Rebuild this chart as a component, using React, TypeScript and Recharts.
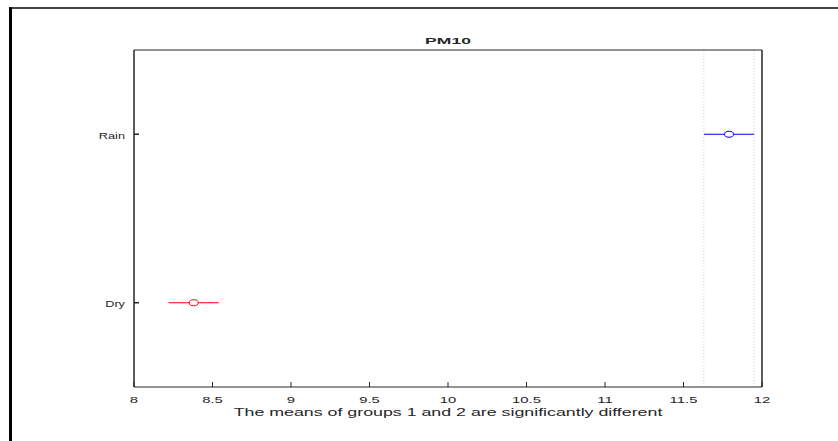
import React from 'react'
import { ScatterChart, Scatter, XAxis, YAxis, ReferenceLine } from 'recharts'

const groups = ['Dry', 'Rain']
const means = [8.38, 11.79]
const halfWidths = [0.16, 0.16]
const colors = ['#ff0000', '#0000ff']
const xTicks = [8, 8.5, 9, 9.5, 10, 10.5, 11, 11.5, 12]
const yTicks = [1, 2]
const title = 'PM10'
const xLabel = 'The means of groups 1 and 2 are significantly different'

const series = groups.map((g, i) => ({
  name: g,
  color: colors[i],
  y: i + 1,
  lo: means[i] - halfWidths[i],
  hi: means[i] + halfWidths[i],
  data: [{ x: means[i], y: i + 1 }],
}))

// Rain is the selected group -> its interval bounds get the dotted guides
const selected = series[1]

const font = '"Liberation Sans", Arial, Helvetica, sans-serif'
const ink = '#262626'

// the source image is stretched sideways, so text is drawn small + scaleX
const stretched = (x: number, y: number, s: number, anchor: string, size: number, text: string, bold = false) => (
  <text
    transform={`translate(${x} ${y}) scale(${s} 1)`}
    x={0}
    y={0}
    textAnchor={anchor}
    fontSize={size}
    fontFamily={font}
    fontWeight={bold ? 'bold' : 'normal'}
    fill={ink}
  >
    {text}
  </text>
)

const XTick = (p: any) => stretched(p.x, p.y + 16, 1.75, 'middle', 8.5, String(p.payload.value))
const YTick = (p: any) => stretched(p.x - 9, p.y + 4.5, 1.5, 'end', 8.5, groups[p.payload.value - 1])

const marker = (color: string) => (props: any) => (
  <ellipse cx={props.cx} cy={props.cy} rx={4.5} ry={3} fill="#fff" stroke={color} strokeWidth={1} />
)

export default function App() {
  return (
    <div style={{ position: 'absolute', left: 0, top: 0, width: 838, height: 441, background: '#fff' }}>
      <div style={{ position: 'absolute', left: 9, top: 7, width: 829, height: 2, background: '#444' }} />
      <div style={{ position: 'absolute', left: 9, top: 7, width: 3, height: 434, background: '#000' }} />
      <ScatterChart width={838} height={441} margin={{ top: 49, right: 75, bottom: 24, left: 74 }} style={{ position: 'absolute', left: 0, top: 0 }}>
        <XAxis
          type="number"
          dataKey="x"
          domain={[8, 12]}
          ticks={xTicks}
          allowDataOverflow
          height={30}
          tickSize={-5}
          tickMargin={5}
          stroke={ink}
          tick={XTick}
          label={{
            content: (p: any) => {
              const vb = p.viewBox
              return stretched(vb.x + vb.width / 2, vb.y + 29, 1.78, 'middle', 10, xLabel)
            },
          }}
        />
        <XAxis
          xAxisId="top"
          type="number"
          orientation="top"
          domain={[8, 12]}
          ticks={xTicks}
          height={1}
          tickSize={-5}
          tick={false}
          stroke={ink}
          label={{
            content: (p: any) => {
              const vb = p.viewBox
              return stretched(vb.x + vb.width / 2, vb.y - 5, 1.95, 'middle', 9, title, true)
            },
          }}
        />
        <YAxis
          type="number"
          dataKey="y"
          domain={[0.5, 2.5]}
          ticks={yTicks}
          width={60}
          tickSize={-5}
          tickMargin={5}
          stroke={ink}
          strokeWidth={1.5}
          tick={YTick}
        />
        <YAxis yAxisId="r" type="number" orientation="right" domain={[0.5, 2.5]} ticks={yTicks} width={1} tickSize={-5} tick={false} stroke={ink} strokeWidth={1.5} />
        <ReferenceLine x={selected.lo} stroke="#c8c8c8" strokeDasharray="1 2" />
        <ReferenceLine x={selected.hi} stroke="#c8c8c8" strokeDasharray="1 2" />
        {series.map((s) => (
          <ReferenceLine
            key={'ci' + s.name}
            segment={[{ x: s.lo, y: s.y }, { x: s.hi, y: s.y }]}
            stroke={s.color}
            strokeWidth={1.2}
          />
        ))}
        {series.map((s) => (
          <Scatter key={s.name} name={s.name} data={s.data} isAnimationActive={false} shape={marker(s.color)} />
        ))}
      </ScatterChart>
    </div>
  )
}
